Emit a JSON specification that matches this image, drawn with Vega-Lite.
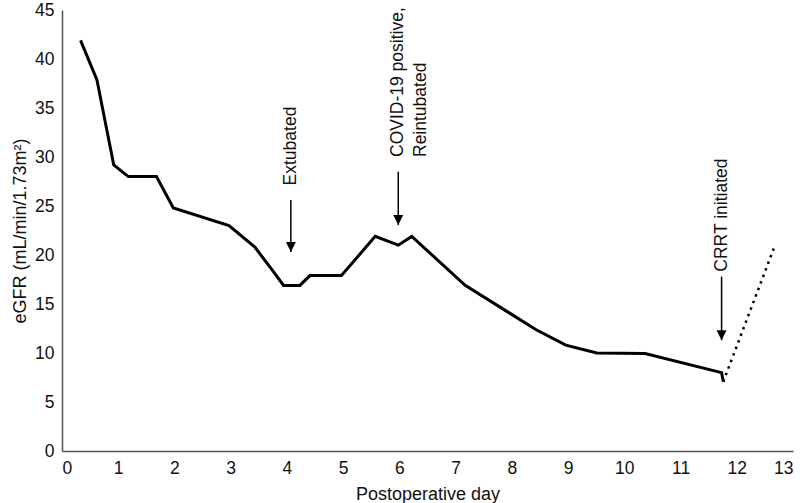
{
  "$schema": "https://vega.github.io/schema/vega-lite/v6.json",
  "width": 731,
  "height": 441,
  "autosize": "none",
  "padding": {"left": 62, "top": 10, "right": 10, "bottom": 52},
  "background": "white",
  "config": {
    "view": {"stroke": null},
    "font": "Liberation Sans",
    "axis": {
      "grid": false,
      "ticks": false,
      "tickSize": 0,
      "domainColor": "#555555",
      "domainWidth": 1.5,
      "labelColor": "#111111",
      "titleColor": "#111111",
      "labelFontSize": 17.5,
      "titleFontSize": 18,
      "titleFontWeight": "normal",
      "labelFont": "Liberation Sans",
      "titleFont": "Liberation Sans"
    }
  },
  "datasets": {
    "solid": [
      {"day": 0.33, "egfr": 41.9},
      {"day": 0.62, "egfr": 37.9},
      {"day": 0.92, "egfr": 29.2},
      {"day": 1.18, "egfr": 28.0},
      {"day": 1.68, "egfr": 28.0},
      {"day": 1.98, "egfr": 24.8},
      {"day": 2.97, "egfr": 23.0},
      {"day": 3.43, "egfr": 20.8},
      {"day": 3.76, "egfr": 18.3},
      {"day": 3.94, "egfr": 16.9},
      {"day": 4.23, "egfr": 16.9},
      {"day": 4.41, "egfr": 17.9},
      {"day": 4.97, "egfr": 17.9},
      {"day": 5.57, "egfr": 21.9},
      {"day": 5.98, "egfr": 21.0},
      {"day": 6.22, "egfr": 21.9},
      {"day": 7.17, "egfr": 16.9},
      {"day": 8.44, "egfr": 12.35},
      {"day": 8.96, "egfr": 10.8},
      {"day": 9.51, "egfr": 10.0},
      {"day": 10.37, "egfr": 9.95},
      {"day": 11.73, "egfr": 8.0},
      {"day": 11.76, "egfr": 7.07}
    ],
    "dotted": [
      {"day": 11.76, "egfr": 7.07},
      {"day": 12.68, "egfr": 21.0}
    ],
    "arrows": [
      {"day": 4.07, "top": 25.6, "tip": 20.3, "textY": 27.1, "label": ["Extubated"]},
      {"day": 5.98, "top": 28.5, "tip": 23.06, "textY": 30.0, "label": ["COVID-19 positive,", "Reintubated"]},
      {"day": 11.73, "top": 17.8, "tip": 11.3, "textY": 18.3, "label": ["CRRT initiated"]}
    ]
  },
  "layer": [
    {
      "data": {"name": "solid"},
      "mark": {"type": "line", "color": "black", "strokeWidth": 3, "strokeJoin": "miter"},
      "encoding": {
        "x": {
          "field": "day", "type": "quantitative",
          "scale": {"domain": [0, 13], "nice": false},
          "axis": {"values": [0,1,2,3,4,5,6,7,8,9,10,11,12,13], "format": "d", "title": "Postoperative day", "labelPadding": 8, "titlePadding": 9}
        },
        "y": {
          "field": "egfr", "type": "quantitative",
          "scale": {"domain": [0, 45], "nice": false},
          "axis": {"values": [0,5,10,15,20,25,30,35,40,45], "format": "d", "title": "eGFR (mL/min/1.73m²)", "labelPadding": 8, "titlePadding": 5}
        }
      }
    },
    {
      "data": {"name": "dotted"},
      "mark": {"type": "line", "color": "black", "strokeWidth": 2.5, "strokeDash": [2.5, 4.5]},
      "encoding": {
        "x": {"field": "day", "type": "quantitative"},
        "y": {"field": "egfr", "type": "quantitative"}
      }
    },
    {
      "data": {"name": "arrows"},
      "mark": {"type": "rule", "color": "black", "strokeWidth": 1.5},
      "encoding": {
        "x": {"field": "day", "type": "quantitative"},
        "y": {"field": "top", "type": "quantitative"},
        "y2": {"field": "tip"}
      }
    },
    {
      "data": {"name": "arrows"},
      "mark": {"type": "point", "shape": "M -0.5 -1 L 0.5 -1 L 0 0 Z", "size": 400, "filled": true, "color": "black", "opacity": 1},
      "encoding": {
        "x": {"field": "day", "type": "quantitative"},
        "y": {"field": "tip", "type": "quantitative"}
      }
    },
    {
      "data": {"name": "arrows"},
      "mark": {"type": "text", "angle": 270, "align": "left", "baseline": "middle", "fontSize": 17.5, "lineHeight": 23, "color": "#111111", "font": "Liberation Sans"},
      "encoding": {
        "x": {"field": "day", "type": "quantitative"},
        "y": {"field": "textY", "type": "quantitative"},
        "text": {"field": "label"}
      }
    }
  ]
}
